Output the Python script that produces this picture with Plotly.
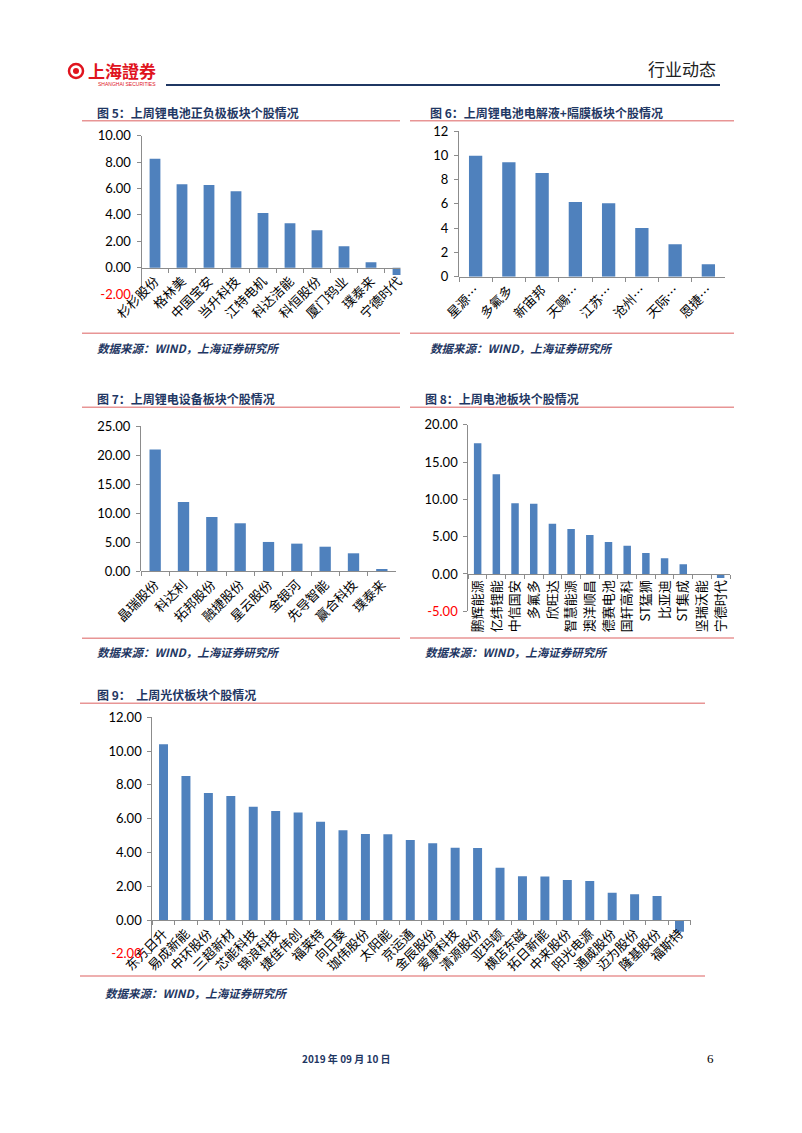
import plotly.graph_objects as go

PAGE_W, PAGE_H = 802, 1133
OFF = 8  # browser body margin
W, H = PAGE_W - OFF, PAGE_H - OFF

# ---------------- data ----------------
c5_names = ["杉杉股份", "格林美", "中国宝安", "当升科技", "江特电机", "科达洁能", "科恒股份", "厦门钨业", "璞泰来", "宁德时代"]
c5_vals = [8.26, 6.32, 6.27, 5.79, 4.14, 3.36, 2.83, 1.62, 0.41, -0.55]

c6_names = ["星源…", "多氟多", "新宙邦", "天赐…", "江苏…", "沧州…", "天际…", "恩捷…"]
c6_vals = [9.97, 9.42, 8.54, 6.15, 6.04, 4.01, 2.67, 1.02]

c7_names = ["晶瑞股份", "科达利", "拓邦股份", "融捷股份", "星云股份", "金银河", "先导智能", "赢合科技", "璞泰来"]
c7_vals = [21.0, 11.94, 9.34, 8.25, 5.02, 4.73, 4.20, 3.06, 0.35]

c8_names = ["鹏辉能源", "亿纬锂能", "中信国安", "多氟多", "欣旺达", "智慧能源", "澳洋顺昌", "德赛电池",
            "国轩高科", "ST猛狮", "比亚迪", "ST集成", "坚瑞沃能", "宁德时代"]
c8_vals = [17.5, 13.35, 9.46, 9.42, 6.74, 6.02, 5.22, 4.28, 3.79, 2.81, 2.10, 1.30, 0.0, -0.55]

c9_names = ["东方日升", "易成新能", "中环股份", "三超新材", "芯能科技", "锦浪科技", "捷佳伟创", "福莱特",
            "向日葵", "珈伟股份", "太阳能", "京运通", "金辰股份", "爱康科技", "清源股份", "亚玛顿",
            "横店东磁", "拓日新能", "中来股份", "阳光电源", "通威股份", "迈为股份", "隆基股份", "福斯特"]
c9_vals = [10.40, 8.53, 7.52, 7.34, 6.71, 6.45, 6.37, 5.82, 5.31, 5.09, 5.07, 4.74, 4.54, 4.28,
           4.26, 3.10, 2.59, 2.57, 2.37, 2.31, 1.62, 1.52, 1.42, -0.69]

c5_ticks = [-2, 0, 2, 4, 6, 8, 10]
c6_ticks = [0, 2, 4, 6, 8, 10, 12]
c7_ticks = [0, 5, 10, 15, 20, 25]
c8_ticks = [-5, 0, 5, 10, 15, 20]
c9_ticks = [-2, 0, 2, 4, 6, 8, 10, 12]

titles = ["图 5：上周锂电池正负极板块个股情况", "图 6：上周锂电池电解液+隔膜板块个股情况",
          "图 7：上周锂电设备板块个股情况", "图 8：上周电池板块个股情况", "图 9：  上周光伏板块个股情况"]
source = "数据来源：WIND，上海证券研究所"

BAR = "#4F81BD"
AXC = "#8C8C8C"
PINK = "#E89595"
NAVY = "#1F3763"
CJK = "Noto Sans CJK SC"
NUM = "Lato"


def px(x):
    return (x - OFF) / W


def py(y):
    return 1 - (y - OFF) / H


fig = go.Figure()


def tick_text(vals, fmt):
    out = []
    for v in vals:
        s = format(v, fmt)
        if v < 0:
            s = '<span style="color:#FF0000">' + s + '</span>'
        out.append(s)
    return out


def add_chart(i, names, vals, xdom, ydom, yrange, ticks, fmt, zero_y, angle):
    fig.add_trace(go.Bar(x=names, y=vals, xaxis="x%d" % i, yaxis="y%d" % i,
                         marker=dict(color=BAR, line=dict(width=0)), showlegend=False))
    xk = "xaxis" if i == 1 else "xaxis%d" % i
    yk = "yaxis" if i == 1 else "yaxis%d" % i
    fig.layout[xk] = dict(
        domain=[px(xdom[0]), px(xdom[1])], anchor="free", position=py(zero_y),
        type="category", range=[-0.5, len(names) - 0.5], automargin=False,
        showline=True, linecolor=AXC, linewidth=1,
        ticks="outside", tickson="boundaries", ticklen=4, tickcolor=AXC,
        tickangle=angle, tickfont=dict(family=CJK, size=13, color="#000"),
        showgrid=False, zeroline=False, fixedrange=True,
    )
    fig.layout[yk] = dict(
        domain=[py(ydom[1]), py(ydom[0])], anchor="x%d" % i, range=yrange, automargin=False,
        tickmode="array", tickvals=ticks, ticktext=tick_text(ticks, fmt),
        showline=True, linecolor=AXC, linewidth=1,
        ticks="outside", ticklen=4, tickcolor=AXC, ticklabelstandoff=3,
        tickfont=dict(family=NUM, size=13, color="#000"),
        showgrid=False, zeroline=False, fixedrange=True,
    )


# chart 5
add_chart(1, c5_names, c5_vals, (141.5, 411.5), (135.7, 294.1), [-2, 10], c5_ticks, ".2f", 267.7, -45)
# chart 6
add_chart(2, c6_names, c6_vals, (459, 725), (131, 276.7), [0, 12], c6_ticks, "d", 276.7, -45)
# chart 7
add_chart(3, c7_names, c7_vals, (141, 396), (426.4, 571), [0, 25], c7_ticks, ".2f", 571, -45)
# chart 8
add_chart(4, c8_names, c8_vals, (468.3, 730), (424.7, 611.3), [-5, 20], c8_ticks, ".2f", 574, -90)
# chart 9
add_chart(5, c9_names, c9_vals, (152.3, 690.7), (717.3, 953.8), [-2, 12], c9_ticks, ".2f", 920, -45)

shapes = []


def hline(y, x0, x1, color=PINK, w=1.5):
    shapes.append(dict(type="line", xref="paper", yref="paper", x0=px(x0), x1=px(x1),
                       y0=py(y), y1=py(y), line=dict(color=color, width=w), layer="above"))


# clip strip at right of chart 5
shapes.append(dict(type="rect", xref="paper", yref="paper", x0=px(400.5), x1=px(413),
                   y0=py(278), y1=py(125), fillcolor="white", line=dict(width=0), layer="above"))

hline(120.7, 82, 400); hline(333.3, 82, 400)
hline(120.7, 410, 734); hline(333.3, 410, 734)
hline(407.3, 82, 400); hline(638.3, 82, 400)
hline(407.3, 410, 734); hline(638.0, 410, 734)
hline(703.3, 80, 705); hline(976.0, 80, 705)
# header navy rule
hline(85, 166, 720, color=NAVY, w=2)

# logo mark
shapes.append(dict(type="circle", xref="paper", yref="paper", x0=px(69), x1=px(83), y0=py(78), y1=py(64),
                   line=dict(color="#E0141E", width=2.5), fillcolor="white", layer="above"))
shapes.append(dict(type="circle", xref="paper", yref="paper", x0=px(73), x1=px(79), y0=py(74), y1=py(68),
                   line=dict(width=0), fillcolor="#E0141E", layer="above"))

annotations = []


def text(x, y, s, size, color="#000", family=CJK, anchor="left"):
    annotations.append(dict(xref="paper", yref="paper", x=px(x), y=py(y), text=s, showarrow=False,
                            xanchor=anchor, yanchor="middle", font=dict(family=family, size=size, color=color)))


# titles
text(95, 112.3, "<b>" + titles[0] + "</b>", 12, NAVY)
text(428, 112.3, "<b>" + titles[1] + "</b>", 12, NAVY)
text(95, 398.3, "<b>" + titles[2] + "</b>", 12, NAVY)
text(423, 398.3, "<b>" + titles[3] + "</b>", 12, NAVY)
text(95, 694, "<b>" + titles[4] + "</b>", 12, NAVY)
# sources
text(95, 348.3, "<b><i>" + source + "</i></b>", 11.5, NAVY)
text(428, 348.3, "<b><i>" + source + "</i></b>", 11.5, NAVY)
text(95, 651.7, "<b><i>" + source + "</i></b>", 11.5, NAVY)
text(423, 651.7, "<b><i>" + source + "</i></b>", 11.5, NAVY)
text(103, 992.7, "<b><i>" + source + "</i></b>", 11.5, NAVY)

# header
text(86, 70, "<b>上海證券</b>", 17, "#E0141E", family="Noto Sans CJK TC")
text(96, 84, "SHANGHAI SECURITIES", 5, "#E0141E", family="Liberation Sans")
text(718, 69, "行业动态", 17, "#222", anchor="right")
# footer
text(300, 1058, "<b>2019 年 09 月 10 日</b>", 10, NAVY)
text(716, 1058, "6", 13, "#000", family="Liberation Serif", anchor="right")

fig.update_layout(
    width=W, height=H, autosize=False,
    margin=dict(l=0, r=0, t=0, b=0, autoexpand=False),
    paper_bgcolor="white", plot_bgcolor="white",
    bargap=0.6, showlegend=False,
    shapes=shapes, annotations=annotations,
)

fig.write_html("out.html")
